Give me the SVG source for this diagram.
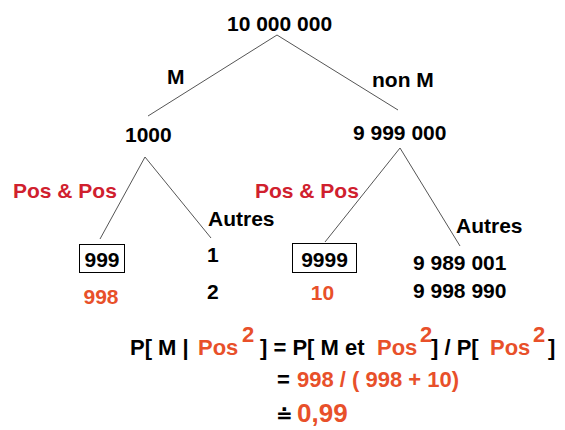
<svg xmlns="http://www.w3.org/2000/svg" width="565" height="430" viewBox="0 0 565 430">
<style>
text{font-family:"Liberation Sans",Arial,sans-serif;font-weight:bold;font-size:21px;fill:#000}
.red{fill:#d0202e}
.or{fill:#e8502a}
.f{font-size:22px}
.edge{stroke:#555;stroke-width:1;fill:none}
.box{fill:#fff;stroke:#000;stroke-width:1}
</style>
<rect width="565" height="430" fill="#fff"/>
<g id="connectors">
<path class="edge" d="M277 35L148 116M277 35L398 110M145 157L100 239M145 157L211 238M400 148L325 242M400 148L460 246"/>
</g>
<g id="labels">
<text x="167" y="84">M</text>
<text x="372" y="87">non M</text>
<text class="red" x="13" y="198">Pos &amp; Pos</text>
<text class="red" x="255" y="198">Pos &amp; Pos</text>
<text x="208" y="226">Autres</text>
<text x="456" y="233">Autres</text>
</g>
<g id="root"><text x="227" y="31">10 000 000</text></g>
<g id="n1000"><text x="125" y="142">1000</text></g>
<g id="n9999000"><text x="353" y="140">9 999 000</text></g>
<g id="n999"><rect class="box" x="79.5" y="244.5" width="45" height="28"/><text x="102" y="267" text-anchor="middle">999</text>
<text class="or" x="101" y="304" text-anchor="middle">998</text></g>
<g id="n1"><text x="207" y="262">1</text><text x="207" y="299">2</text></g>
<g id="n9999"><rect class="box" x="292.5" y="243.5" width="64" height="29"/><text x="324.5" y="267" text-anchor="middle">9999</text>
<text class="or" x="322.5" y="300" text-anchor="middle">10</text></g>
<g id="nrest"><text x="413" y="270">9 989 001</text><text x="413" y="298">9 998 990</text></g>
<g id="formula">
<text class="f" y="355"><tspan x="130">P[ M | </tspan><tspan class="or" x="198">Pos</tspan><tspan class="or" x="242" y="342">2</tspan><tspan x="260" y="355">] = P[ M et </tspan><tspan class="or" x="377">Pos</tspan><tspan class="or" x="420" y="342">2</tspan><tspan x="431" y="355">] / P[ </tspan><tspan class="or" x="490">Pos</tspan><tspan class="or" x="533" y="342">2</tspan><tspan x="548" y="355">]</tspan></text>
<text class="f" y="387"><tspan x="277">=</tspan><tspan class="or" x="297">998 / ( 998 + 10)</tspan></text>
<text x="276" y="422" style="font-family:'DejaVu Sans',sans-serif;font-size:20px">≐</text>
<text class="or" x="297" y="422" style="font-size:26px">0,99</text>
</g>
</svg>
